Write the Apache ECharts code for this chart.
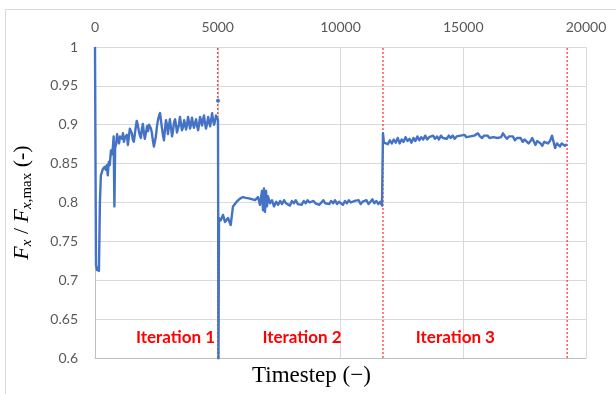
<!DOCTYPE html>
<html>
<head>
<meta charset="utf-8">
<script src="https://cdn.jsdelivr.net/npm/echarts@6/dist/echarts.min.js"></script>
<style>html,body{margin:0;padding:0;background:#fff;}#c{width:616px;height:394px;}</style>
</head>
<body>
<div id="c"></div>
<script>
// ---- Data ----
const xTicks = [0, 5000, 10000, 15000, 20000];
const yTicks = [0.6, 0.65, 0.7, 0.75, 0.8, 0.85, 0.9, 0.95, 1];
const iterationBounds = [5000, 11730, 19230];
const iterationLabels = ['Iteration 1', 'Iteration 2', 'Iteration 3'];
const iterationLabelSteps = [3280, 8430, 14680];

const steps1 = [0,40,80,120,160,200,240,320,400,440,480,520,560,600,650,700,730,760,790,820,860,900,940,980,1020,1060,1100,1140,1180,1220,1300,1340,1380,1420,1500,1540,1580,1620,1660,1700,1740,1780,1820,1870,1910,1950,1990,2030,2080,2120,2160,2200,2240,2280,2320,2360,2400,2440,2480,2520,2560,2610,2650,2690,2730,2770,2810,2850,2890,2930,2970,3010,3050,3100,3140,3180,3220,3260,3300,3340,3380,3420,3460,3500,3540,3590,3630,3670,3710,3750,3790,3830,3870,3910,3950,3990,4030,4080,4120,4160,4200,4240,4280,4320,4360,4400,4440,4480,4520,4570,4610,4650,4690,4730,4770,4810,4850,4890,4930,4970,5010,5030];
const values1 = [1.0,0.72,0.713,0.716,0.712,0.80,0.835,0.843,0.846,0.842,0.848,0.835,0.852,0.848,0.867,0.862,0.872,0.885,0.795,0.87,0.875,0.888,0.88,0.876,0.885,0.887,0.882,0.889,0.878,0.884,0.887,0.874,0.885,0.895,0.889,0.881,0.878,0.887,0.897,0.905,0.9,0.893,0.887,0.883,0.895,0.901,0.89,0.882,0.89,0.898,0.892,0.9,0.902,0.895,0.889,0.879,0.872,0.871,0.885,0.897,0.905,0.912,0.915,0.905,0.895,0.886,0.88,0.894,0.906,0.9,0.888,0.898,0.907,0.895,0.885,0.893,0.903,0.907,0.9,0.89,0.888,0.9,0.91,0.902,0.893,0.897,0.906,0.901,0.894,0.9,0.91,0.904,0.895,0.9,0.909,0.902,0.896,0.903,0.907,0.898,0.893,0.901,0.91,0.905,0.899,0.907,0.912,0.902,0.895,0.902,0.91,0.904,0.898,0.906,0.915,0.906,0.9,0.905,0.912,0.909,0.906,0.59];

const steps2 = [5050,5120,5213,5295,5417,5527,5621,5771,5906,6028,6150,6313,6517,6639,6720,6802,6843,6883,6924,6965,7006,7046,7128,7209,7291,7380,7460,7540,7620,7700,7780,7860,7940,8020,8100,8180,8260,8340,8420,8500,8580,8660,8740,8820,8900,8980,9060,9140,9220,9300,9380,9460,9540,9620,9700,9780,9860,9940,10020,10100,10180,10260,10340,10420,10500,10580,10660,10740,10820,10900,10980,11060,11140,11220,11300,11380,11460,11540,11620,11690,11710];
const values2 = [0.78,0.777,0.784,0.775,0.78,0.771,0.795,0.801,0.805,0.807,0.806,0.805,0.803,0.807,0.797,0.815,0.79,0.818,0.788,0.815,0.795,0.808,0.799,0.803,0.795,0.801,0.797,0.802,0.798,0.803,0.799,0.801,0.796,0.802,0.799,0.803,0.798,0.8,0.797,0.802,0.799,0.803,0.8,0.798,0.802,0.799,0.801,0.797,0.8,0.803,0.799,0.801,0.798,0.802,0.799,0.803,0.798,0.801,0.8,0.797,0.802,0.799,0.803,0.8,0.798,0.802,0.8,0.803,0.798,0.801,0.799,0.803,0.798,0.801,0.804,0.799,0.802,0.798,0.801,0.796,0.797];

const steps3 = [11730,11770,11850,11930,12010,12090,12170,12250,12330,12410,12490,12570,12650,12730,12810,12890,12970,13050,13130,13210,13290,13370,13450,13530,13610,13690,13770,13850,13930,14010,14090,14170,14250,14330,14410,14490,14570,14650,14730,14810,14890,14970,15050,15130,15210,15290,15370,15450,15530,15600,15680,15763,15840,15920,15990,16070,16150,16230,16310,16390,16470,16540,16618,16700,16781,16860,16940,17020,17107,17190,17260,17340,17420,17500,17580,17660,17740,17810,17880,17940,18010,18080,18150,18220,18300,18380,18450,18530,18614,18680,18740,18817,18880,18940,19010,19070,19140,19225];
const values3 = [0.889,0.877,0.879,0.875,0.88,0.876,0.881,0.877,0.883,0.876,0.881,0.878,0.884,0.879,0.882,0.877,0.883,0.879,0.885,0.88,0.884,0.881,0.886,0.881,0.884,0.882,0.886,0.882,0.885,0.881,0.886,0.883,0.885,0.882,0.886,0.883,0.886,0.882,0.885,0.883,0.886,0.884,0.887,0.884,0.882,0.885,0.883,0.886,0.884,0.889,0.885,0.883,0.886,0.884,0.886,0.883,0.885,0.884,0.886,0.883,0.885,0.884,0.889,0.885,0.882,0.885,0.883,0.885,0.88,0.883,0.881,0.883,0.878,0.881,0.879,0.876,0.879,0.883,0.878,0.874,0.879,0.878,0.876,0.873,0.878,0.88,0.876,0.879,0.886,0.878,0.87,0.876,0.874,0.872,0.876,0.878,0.873,0.875];

const transitionPointStep = [5010];
const transitionPointValue = [0.931];

// ---- Build ----
const steps = steps1.concat(steps2, steps3);
const values = values1.concat(values2, values3);
const lineData = steps.map((s, i) => [s, values[i]]);
const dotData = transitionPointStep.map((s, i) => [s, transitionPointValue[i]]);

const chart = echarts.init(document.getElementById('c'), null, {renderer: 'canvas'});
const labelFont = 'Lato';
const axisCommon = {
  type: 'value', min: 0, max: 20000, interval: 5000
};
const boundarySeries = iterationBounds.map(b => ({
  type: 'line', silent: true, z: 1, showSymbol: false, symbol: 'none',
  data: [[b, 0.6], [b, 1]],
  lineStyle: {color: '#ff0000', type: [2, 2], width: 1, opacity: 1},
  emphasis: {disabled: true}
}));
chart.setOption({
  animation: false,
  grid: {left: 95, right: 30, top: 47, bottom: 36, containLabel: false},
  xAxis: [
    Object.assign({}, axisCommon, {
      position: 'bottom',
      axisLine: {show: true, lineStyle: {color: '#bfbfbf', width: 1}},
      axisTick: {show: false},
      axisLabel: {show: false},
      splitLine: {show: true, lineStyle: {color: '#d9d9d9', width: 1}}
    }),
    Object.assign({}, axisCommon, {
      position: 'top',
      axisLine: {show: false},
      axisTick: {show: false},
      axisLabel: {show: true, margin: 13, color: '#595959', fontFamily: labelFont, fontSize: 14,
        formatter: v => String(v)},
      splitLine: {show: false}
    })
  ],
  yAxis: {
    type: 'value', min: 0.6, max: 1, interval: 0.05,
    axisLine: {show: true, lineStyle: {color: '#bfbfbf', width: 1}},
    axisTick: {show: false},
    axisLabel: {margin: 17, color: '#595959', fontFamily: labelFont, fontSize: 14,
      formatter: v => String(Math.round(v * 100) / 100)},
    splitLine: {show: true, lineStyle: {color: '#d9d9d9', width: 1}},
    name: '{f|F}{s|x}{n| / }{f|F}{s|x}{r|,max}{n| (-)}',
    nameLocation: 'middle',
    nameRotate: 90,
    nameGap: 60,
    nameTextStyle: {
      rich: {
        f: {fontFamily: 'Liberation Serif', fontStyle: 'italic', fontSize: 22, lineHeight: 26, color: '#000'},
        s: {fontFamily: 'Liberation Serif', fontStyle: 'italic', fontSize: 15, lineHeight: 15, verticalAlign: 'bottom', color: '#000'},
        r: {fontFamily: 'Liberation Serif', fontSize: 15, lineHeight: 15, verticalAlign: 'bottom', color: '#000'},
        n: {fontFamily: 'Liberation Serif', fontSize: 22, lineHeight: 26, color: '#000'}
      }
    }
  },
  graphic: [
    {type: 'rect', silent: true, z: -10,
      shape: {x: 5.5, y: 9.5, width: 640, height: 420},
      style: {fill: 'none', stroke: '#d9d9d9', lineWidth: 1}},
    {type: 'text', left: 252, top: 364, silent: true,
      style: {text: 'Timestep (−)', fontFamily: 'Liberation Serif', fontSize: 23, fill: '#000'}}
  ],
  series: boundarySeries.concat([
    {
      type: 'line', data: lineData, showSymbol: false, symbol: 'none', z: 3,
      lineStyle: {color: '#4472C4', width: 2.4, join: 'round'}, clip: true
    },
    {
      type: 'scatter', data: dotData, symbolSize: 4, z: 4,
      itemStyle: {color: '#4472C4', opacity: 1}
    },
    {
      type: 'scatter', data: iterationLabelSteps.map((s, i) => [s, 0.626, iterationLabels[i]]),
      symbolSize: 0, z: 5, silent: true,
      itemStyle: {opacity: 1},
      label: {show: true, position: 'inside', formatter: p => p.value[2],
        color: '#ff0000', opacity: 1, textBorderWidth: 0, textBorderColor: 'transparent',
        fontFamily: labelFont, fontWeight: 'bold', fontSize: 17}
    }
  ])
});
</script>
</body>
</html>
